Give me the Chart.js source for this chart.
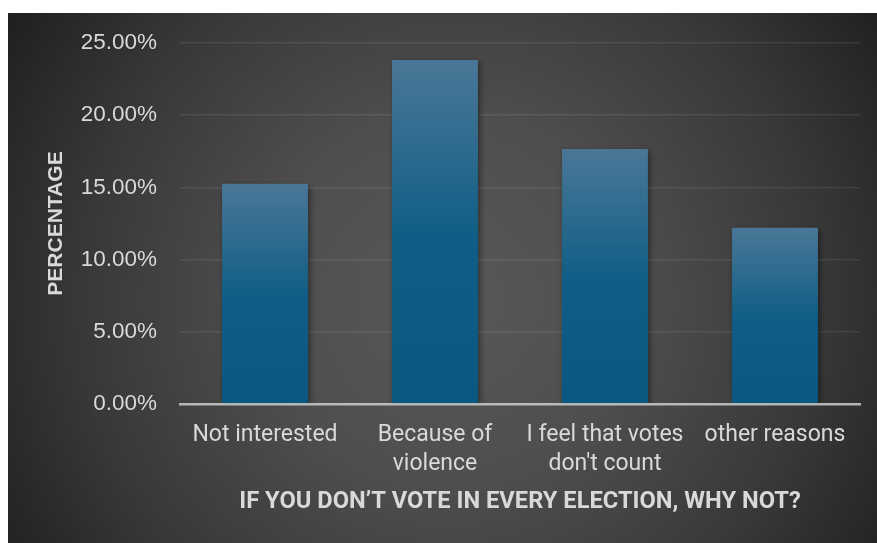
<!DOCTYPE html>
<html>
<head>
<meta charset="utf-8">
<script src="https://cdn.jsdelivr.net/npm/chart.js@4/dist/chart.umd.min.js"></script>
<style>
  html, body { margin: 0; padding: 0; background: #ffffff; }
  #wrap { width: 877px; height: 543px; }
</style>
</head>
<body>
<div id="wrap"><canvas id="chart" width="877" height="543"></canvas></div>
<script>
// Reasons given for not voting in every election
const categories = [
  'Not interested',
  ['Because of', 'violence'],
  ['I feel that votes', "don't count"],
  'other reasons'
];
const shares = [0.1525, 0.2382, 0.1766, 0.1220];
const yTickStep = 0.05;
const yMax = 0.25;
const xTitle = 'IF YOU DON\u2019T VOTE IN EVERY ELECTION, WHY NOT?';
const yTitle = 'PERCENTAGE';

const textColor = '#d9d9d9';

// Dark radial backdrop behind the whole chart
const backdrop = {
  id: 'backdrop',
  beforeDraw(chart) {
    const { ctx, width, height } = chart;
    const x0 = 8, y0 = 13;
    const cx = 450, cy = 300;
    const r = Math.hypot(cx - x0, cy - y0);
    const g = ctx.createRadialGradient(cx, cy, 0, cx, cy, r);
    g.addColorStop(0, '#585858');
    g.addColorStop(0.35, '#4e4e4e');
    g.addColorStop(0.7, '#383838');
    g.addColorStop(1, '#1f1f1f');
    ctx.save();
    ctx.fillStyle = g;
    ctx.fillRect(x0, y0, width - x0, height - y0);
    ctx.restore();
  }
};

// Soft drop shadow under the bars
const barShadow = {
  id: 'barShadow',
  beforeDatasetsDraw(chart) {
    const ctx = chart.ctx;
    ctx.save();
    ctx.shadowColor = 'rgba(0,0,0,0.45)';
    ctx.shadowBlur = 6;
    ctx.shadowOffsetX = 2;
    ctx.shadowOffsetY = 2;
  },
  afterDatasetsDraw(chart) {
    chart.ctx.restore();
  }
};

// Vertical gradient on each bar, light steel blue on top to deep teal below
function barFill(context) {
  const chart = context.chart;
  if (!chart.chartArea || !chart.scales.y) return '#135f86';
  const y = chart.scales.y;
  const v = context.raw;
  const top = y.getPixelForValue(v);
  const bottom = y.getPixelForValue(0);
  const g = chart.ctx.createLinearGradient(0, top, 0, bottom);
  g.addColorStop(0, '#4a7797');
  g.addColorStop(0.25, '#2e6b8e');
  g.addColorStop(0.5, '#105e86');
  g.addColorStop(1, '#0a5780');
  return g;
}

new Chart(document.getElementById('chart'), {
  type: 'bar',
  data: {
    labels: categories,
    datasets: [{
      data: shares,
      backgroundColor: barFill,
      borderWidth: 0,
      categoryPercentage: 1,
      barPercentage: 0.505
    }]
  },
  options: {
    responsive: false,
    devicePixelRatio: 1,
    animation: false,
    layout: { padding: { left: 8, right: 17, top: 43, bottom: 0 } },
    plugins: {
      legend: { display: false },
      tooltip: { enabled: false }
    },
    scales: {
      x: {
        afterFit(scale) { scale.height = 139; },
        grid: { display: false, drawTicks: false },
        border: { display: true, color: 'rgba(210,210,210,0.8)', width: 2.5, z: 1 },
        ticks: {
          color: textColor,
          padding: 17,
          maxRotation: 0,
          autoSkip: false,
          font: { family: 'Roboto', size: 23, lineHeight: 1.24 }
        },
        title: {
          display: true,
          text: xTitle,
          color: textColor,
          padding: { top: 0, bottom: 27 },
          font: { family: 'Roboto', size: 23.7, weight: 'bold', lineHeight: 1.2 }
        }
      },
      y: {
        min: 0,
        max: yMax,
        afterFit(scale) { scale.width = 172; },
        grid: { color: 'rgba(255,255,255,0.09)', lineWidth: 1.5, drawTicks: false },
        border: { display: false },
        ticks: {
          stepSize: yTickStep,
          color: textColor,
          padding: 23,
          font: { family: 'Liberation Sans', size: 22.5 },
          callback: v => (v * 100).toFixed(2) + '%'
        },
        title: {
          display: true,
          text: yTitle,
          color: textColor,
          padding: { top: 36, bottom: 0 },
          font: { family: 'Liberation Sans', size: 21, weight: 'bold', lineHeight: 1.2 }
        }
      }
    }
  },
  plugins: [backdrop, barShadow]
});
</script>
</body>
</html>
